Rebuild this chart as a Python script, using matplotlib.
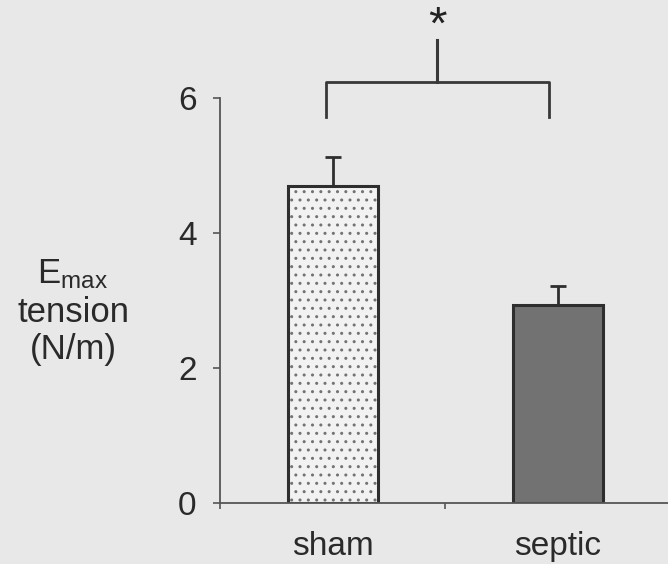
import matplotlib
matplotlib.use('Agg')
import matplotlib.pyplot as plt
import numpy as np

plt.rcParams['font.family'] = ['Liberation Sans', 'DejaVu Sans']
plt.rcParams['hatch.linewidth'] = 1.0

# data
groups = ['sham', 'septic']
emax_mean = [4.70, 2.93]
emax_sem = [0.43, 0.28]
yticks = [0, 2, 4, 6]

bg = '#e8e8e8'
ink = '#383838'

fig = plt.figure(figsize=(6.68, 5.64), dpi=100, facecolor=bg)
ax = fig.add_axes([220 / 668, 1 - 503 / 564, 450 / 668, 405 / 564])
ax.set_facecolor(bg)

x = np.arange(len(groups)) + 0.5
bars = ax.bar(x, emax_mean, width=0.4, color=['#f2f2f2', '#727272'],
              edgecolor='#2e2e2e', linewidth=2.2, zorder=2)
bars[0].set_hatch('..')
bars[0]._hatch_color = (0.45, 0.45, 0.45, 1)

# upper half error bars only
ax.errorbar(x, emax_mean, yerr=[np.zeros(len(x)), emax_sem], fmt='none',
            ecolor='#2e2e2e', elinewidth=2, capsize=6, capthick=2, zorder=1)

ax.set_xlim(0, 2)
ax.set_ylim(0, 6)
ax.set_yticks(yticks)
ax.set_xticks([0, 1, 2])
ax.set_xticklabels([])
ax.set_xticks(x, minor=True)
ax.set_xticklabels(groups, minor=True)
ax.tick_params(axis='x', which='minor', length=0, pad=20, labelsize=24,
               labelcolor='#2a2a2a')
ax.tick_params(axis='x', which='major', length=4, width=1.2, color='#555555')
ax.tick_params(axis='y', length=5, width=1.2, color='#555555', pad=12,
               labelsize=24, labelcolor='#2a2a2a')

for s in ['top', 'right']:
    ax.spines[s].set_visible(False)
for s in ['left', 'bottom']:
    ax.spines[s].set_color('#555555')
    ax.spines[s].set_linewidth(1.3)

# significance bracket
bl, br, bm = x[0] - 0.03, x[1] - 0.04, 0.965
ax.plot([bl, bl, br, br], [5.72, 6.24, 6.24, 5.72], color=ink, lw=2,
        clip_on=False)
ax.plot([bm, bm], [6.24, 6.86], color=ink, lw=2.2, clip_on=False)
ax.text(bm, 7.06, '*', fontsize=34, ha='center', va='center', color='#222222',
        clip_on=False)

# y label block
fig.text(73 / 668, 1 - 274 / 564, r'$\mathregular{E_{max}}$', fontsize=25,
         ha='center', va='center', color='#2a2a2a')
fig.text(73 / 668, 1 - 312 / 564, 'tension', fontsize=25, ha='center',
         va='center', color='#2a2a2a')
fig.text(73 / 668, 1 - 350 / 564, '(N/m)', fontsize=25, ha='center',
         va='center', color='#2a2a2a')

fig.savefig('out.png', dpi=100, facecolor=bg)
